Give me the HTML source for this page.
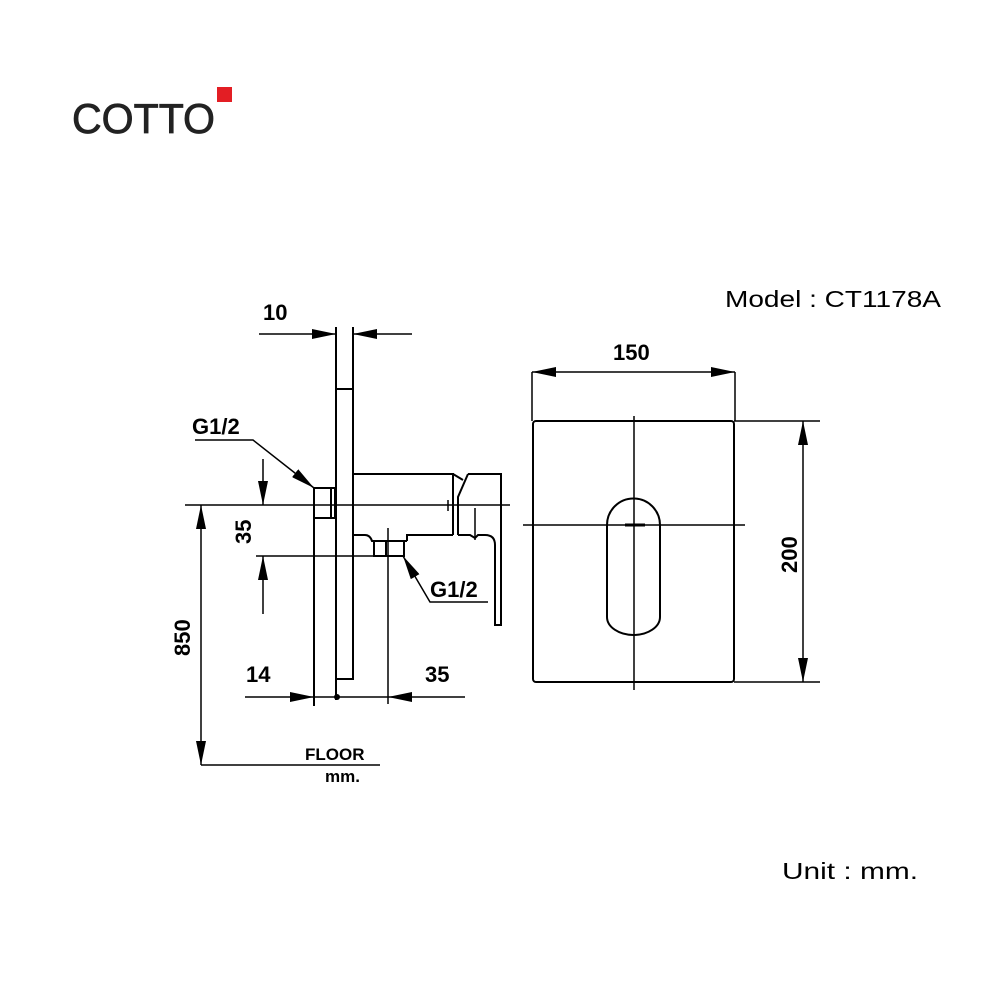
<!DOCTYPE html>
<html><head><style>
html,body{margin:0;padding:0;background:#fff;}
svg{display:block;}
text{font-family:"Liberation Sans",sans-serif;}
</style></head><body>
<svg width="1000" height="1000" viewBox="0 0 1000 1000" xmlns="http://www.w3.org/2000/svg">
<defs>
<marker id="b" viewBox="0 0 24 10" refX="24" refY="5" markerWidth="24" markerHeight="10" markerUnits="userSpaceOnUse" orient="auto-start-reverse"><path d="M0,0 L24,5 L0,10 z" fill="#000"/></marker>
</defs>
<rect width="1000" height="1000" fill="#fff"/>
<text x="72" y="133" font-size="42" fill="#222" textLength="143" lengthAdjust="spacingAndGlyphs" stroke="#222" stroke-width="0.8">COTTO</text>
<rect x="217" y="87" width="15" height="15" fill="#e31e24"/>
<text x="725" y="307" font-size="23" fill="#000" textLength="216" lengthAdjust="spacingAndGlyphs">Model : CT1178A</text>
<text x="782" y="879" font-size="23" fill="#000" textLength="136" lengthAdjust="spacingAndGlyphs">Unit : mm.</text>

<g stroke="#000" fill="none" stroke-width="2">
<path d="M336,327 V700 M353,327 V679 H336 M336,389 H353"/>
<rect x="314" y="488" width="21" height="30"/>
<path d="M331,488 V518"/>
<path d="M314,518 V706"/>
<path d="M353,474 H453 V535 M453,474 L463,480 M468,474 L458,497 V535 M468,474 H501 V625 H495 V545 Q495,535 485,535 H478 L475,538 L470,535 H458"/>
<path d="M353,535 H365 Q370,535 372,541 H407 M407,541 V535 H453"/>
<rect x="374" y="541" width="30" height="15"/>
<path d="M386,541 V556"/>
<path d="M448,500 V511 M475,508 V540" stroke-width="1.5"/>
<path d="M185,505 H510" stroke-width="1.5"/>
<path d="M256,556 H400" stroke-width="1.5"/>
<path d="M388,528 V704" stroke-width="1.5"/>
<g stroke-width="1.5">
<path d="M259,334 H336" marker-end="url(#b)"/>
<path d="M412,334 H353" marker-end="url(#b)"/>
<path d="M263,459 V505" marker-end="url(#b)"/>
<path d="M263,614 V556" marker-end="url(#b)"/>
<path d="M201,505 V765" marker-start="url(#b)" marker-end="url(#b)"/>
<path d="M201,765 H380"/>
<path d="M245,697 H314" marker-end="url(#b)"/>
<path d="M465,697 H388" marker-end="url(#b)"/>
<path d="M314,697 H388"/>
<path d="M195,440 H253 L314,488" marker-end="url(#b)"/>
<path d="M488,602 H430 L403,556" marker-end="url(#b)"/>
</g>
<rect x="533" y="421" width="201" height="261" rx="3"/>
<path d="M634,416 V690 M523,525 H745" stroke-width="1.5"/>
<path d="M607,525 A26.5,26.5 0 0 1 660,525 V617 A26.5,18 0 0 1 607,617 Z"/>
<path d="M625,525 H645" stroke-width="3"/>
<path d="M532,372 V421 M735,372 V421" stroke-width="1.5"/>
<path d="M532,372 H735" stroke-width="1.5" marker-start="url(#b)" marker-end="url(#b)"/>
<path d="M734,421 H820 M734,682 H820" stroke-width="1.5"/>
<path d="M803,421 V682" stroke-width="1.5" marker-start="url(#b)" marker-end="url(#b)"/>
</g>
<circle cx="337" cy="697" r="3" fill="#000"/>

<g font-weight="bold" font-size="22" fill="#000">
<text x="263" y="320">10</text>
<text x="192" y="434">G1/2</text>
<text x="430" y="597">G1/2</text>
<text x="246" y="682">14</text>
<text x="425" y="682">35</text>
<text x="613" y="360">150</text>
<text transform="translate(251,544) rotate(-90)">35</text>
<text transform="translate(190,656) rotate(-90)">850</text>
<text transform="translate(797,573) rotate(-90)">200</text>
<text x="305" y="760" font-size="17">FLOOR</text>
<text x="325" y="782" font-size="17">mm.</text>
</g>
</svg>
</body></html>
